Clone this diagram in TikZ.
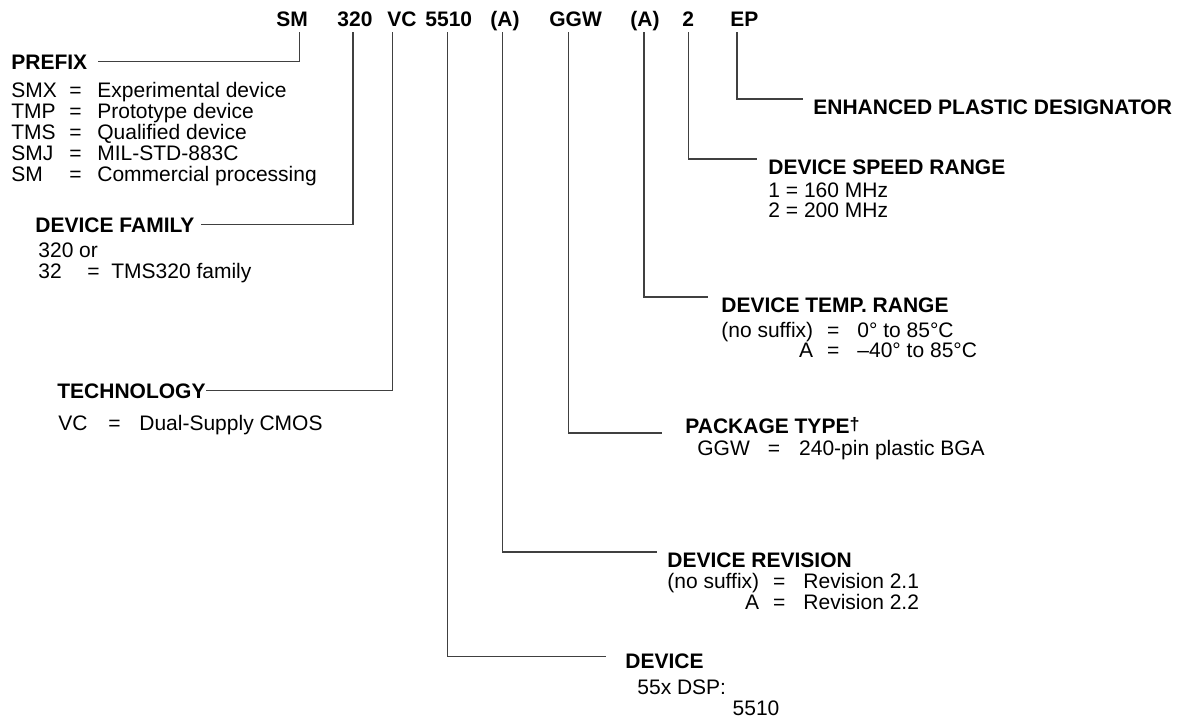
\documentclass[tikz,border=0pt]{standalone}
\usepackage{fontspec}
\setmainfont{Liberation Sans}
\usetikzlibrary{positioning}

\begin{document}
\begin{tikzpicture}[x=0.5pt,y=-0.5pt]
\tikzstyle{code} = [font=\fontsize{10.5}{12}\selectfont\bfseries, inner sep=0pt, anchor=base west]
\tikzstyle{head} = [font=\fontsize{10.5}{12}\selectfont\bfseries, inner sep=0pt, anchor=base west]
\tikzstyle{body} = [font=\fontsize{10.5}{10}\selectfont, inner sep=0pt, anchor=base west]
\tikzstyle{leader} = [draw=black!75, line width=0.6pt, shorten <=3pt]

\useasboundingbox (0,0) rectangle (1190,719);

% part number
\node [code] (cSM) at (276,26) {SM};
\node [code] (c320) at (337,26) {320};
\node [code] (cVC) at (387,26) {VC};
\node [code] (cDev) at (425,26) {5510};
\node [code] (cRev) at (490,26) {(A)};
\node [code] (cPkg) at (549,26) {GGW};
\node [code] (cTemp) at (630,26) {(A)};
\node [code] (cSpeed) at (682,26) {2};
\node [code] (cEP) at (730,26) {EP};

% left side
\node [head] (prefix) at (11,69) {PREFIX};
\node [body, font=\fontsize{10.5}{9.9}\selectfont] (prefixlist) at (11,97.5)
 {\begin{tabular}[t]{@{}p{29pt}@{}p{14pt}@{}l@{}}
  SMX & = & Experimental device\\
  TMP & = & Prototype device\\
  TMS & = & Qualified device\\
  SMJ & = & MIL-STD-883C\\
  SM  & = & Commercial processing
  \end{tabular}};
\node [head] (family) at (35,232) {DEVICE FAMILY};
\node [body] (familylist) at (38,257)
 {\begin{tabular}[t]{@{}p{24.5pt}@{}p{12pt}@{}l@{}}
  \multicolumn{3}{@{}l@{}}{320 or}\\
  32 & = & TMS320 family
  \end{tabular}};
\node [head] (tech) at (57,398) {TECHNOLOGY};
\node [body] (techlist) at (58,430)
 {\begin{tabular}[t]{@{}p{25pt}@{}p{15.5pt}@{}l@{}}
  VC & = & Dual-Supply CMOS
  \end{tabular}};

% right side
\node [head] (plastic) at (813,114) {ENHANCED PLASTIC DESIGNATOR};
\node [head] (speed) at (768,174) {DEVICE SPEED RANGE};
\node [body] (speedlist) at (768,197)
 {\begin{tabular}[t]{@{}l@{}}
  1 = 160 MHz\\
  2 = 200 MHz
  \end{tabular}};
\node [head] (temp) at (721,312) {DEVICE TEMP. RANGE};
\node [body, font=\fontsize{10.5}{9.5}\selectfont] (templist) at (721,337)
 {\begin{tabular}[t]{@{}r@{\hspace{7pt}}c@{\hspace{9pt}}l@{}}
  (no suffix) & = & 0° to 85°C\\
  A & = & –40° to 85°C
  \end{tabular}};
\node [head] (package) at (685,433)
 {PACKAGE TYPE\raisebox{1.5pt}{\fontsize{9}{9}\selectfont †}};
\node [body] (packagelist) at (697,455)
 {\begin{tabular}[t]{@{}l@{\hspace{9pt}}c@{\hspace{9.5pt}}l@{}}
  GGW & = & 240-pin plastic BGA
  \end{tabular}};
\node [head] (revision) at (667,567) {DEVICE REVISION};
\node [body, font=\fontsize{10.5}{10.5}\selectfont] (revisionlist) at (667,588)
 {\begin{tabular}[t]{@{}r@{\hspace{7pt}}c@{\hspace{9pt}}l@{}}
  (no suffix) & = & Revision 2.1\\
  A & = & Revision 2.2
  \end{tabular}};
\node [head] (device) at (625,668) {DEVICE};
\node [body, font=\fontsize{10.5}{10.5}\selectfont] (devicelist) at (637,694)
 {\begin{tabular}[t]{@{}l@{\hspace{3.3pt}}l@{}}
  55x DSP: & \\
  & 5510
  \end{tabular}};

% leaders
\draw [leader, shorten >=5pt] ([xshift=3.5pt]cSM.base) |- (prefix.east);
\draw [leader, shorten >=3pt] ([xshift=-1pt]c320.base) |- (family.east);
\draw [leader] ([xshift=-4.75pt]cVC.base) |- (tech.east);
\draw [leader, shorten >=9.5pt] ([xshift=-0.75pt]cDev.base) |- ([yshift=2pt]device.west);
\draw [leader, shorten >=5pt] ([xshift=-1.25pt]cRev.base) |- (revision.north west);
\draw [leader, shorten >=11.5pt] ([xshift=-3.5pt]cPkg.base) |- (package.base west);
\draw [leader, shorten >=6.5pt] ([xshift=-0.5pt]cTemp.base) |- (temp.north west);
\draw [leader, shorten >=5.5pt] (cSpeed.base) |- (speed.north west);
\draw [leader, shorten >=5pt] ([xshift=-3.75pt]cEP.base) |- (plastic.north west);

\end{tikzpicture}
\end{document}
